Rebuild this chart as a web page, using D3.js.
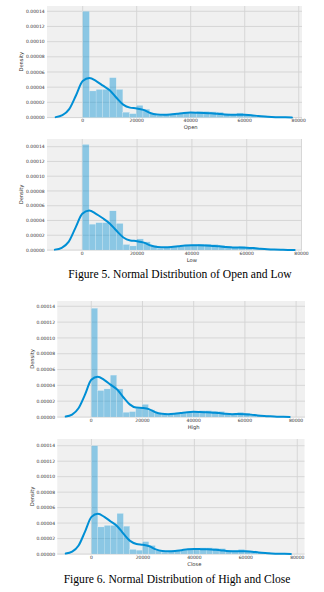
<!DOCTYPE html>
<html><head><meta charset="utf-8">
<script src="https://cdn.jsdelivr.net/npm/d3@7"></script>
<style>body{margin:0;background:#fff}svg{display:block}</style>
</head><body>
<svg id="c" width="324" height="592"></svg>
<script>
// ---------- DATA ----------
const fields = ["Open", "Low", "High", "Close"];
const xTicks = [0, 20000, 40000, 60000, 80000];
const yTicks = [0, 0.00002, 0.00004, 0.00006, 0.00008, 0.00010, 0.00012, 0.00014];
const captions = ["Figure 5. Normal Distribution of Open and Low", "Figure 6. Normal Distribution of High and Close"];
const binEdges = [0,2480,4960,7440,9920,12400,14880,17360,19840,22320,24800,27280,29760,32240,34720,37200,39680,42160,44640,47120,49600,52080,54560,57040,59520,62000,64480,66960,69440,71920,74400,76880];

const openBars  = [1.40e-4,3.5e-5,3.7e-5,3.7e-5,5.25e-5,3.7e-5,7e-6,5e-6,1.6e-5,1.1e-5,5e-6,2.5e-6,4e-6,5e-6,5e-6,6e-6,7e-6,8e-6,8e-6,7.5e-6,7e-6,5e-6,4e-6,6e-6,4e-6,3e-6,2e-6,2e-6,1e-6,1e-6,1e-6];
const lowBars   = [1.43e-4,3.5e-5,3.7e-5,3.7e-5,5.3e-5,3.6e-5,7.5e-6,5.5e-6,1.5e-5,1.1e-5,6e-6,2.5e-6,4e-6,5e-6,5e-6,6e-6,7e-6,8e-6,8e-6,7.5e-6,6.5e-6,5e-6,4e-6,5e-6,4e-6,3e-6,2e-6,1.5e-6,1e-6,1e-6,0.5e-6];
const highBars  = [1.376e-4,3.35e-5,3.55e-5,5.3e-5,3.55e-5,6e-6,6.8e-6,1.1e-5,1.6e-5,9e-6,5e-6,3e-6,4e-6,5e-6,5e-6,6e-6,7e-6,8e-6,8e-6,7.5e-6,7e-6,5e-6,4e-6,6e-6,5e-6,3e-6,2e-6,2e-6,1e-6,1e-6,1e-6];
const closeBars = [1.40e-4,3.5e-5,3.7e-5,3.7e-5,5.25e-5,3.6e-5,6e-6,5e-6,1.6e-5,1.1e-5,5e-6,2.5e-6,4e-6,5e-6,5e-6,6e-6,7e-6,8e-6,8e-6,7.5e-6,7e-6,5e-6,4e-6,6e-6,4e-6,3e-6,2e-6,2e-6,1e-6,1e-6,1e-6];

const kdeX = [-10000,-7500,-5000,-2500,0,2500,5000,7500,10000,12500,15000,17500,20000,22500,25000,27500,30000,32500,35000,37500,40000,42500,45000,47500,50000,52500,55000,57500,60000,62500,65000,67500,70000,72500,75000,77500];
const openKde  = [0.5e-6,3e-6,1.1e-5,2.9e-5,4.8e-5,5.2e-5,4.8e-5,4.2e-5,3.6e-5,2.6e-5,1.7e-5,1.3e-5,1.2e-5,1.0e-5,6e-6,4e-6,3.5e-6,4e-6,5e-6,6e-6,6.5e-6,6.3e-6,6e-6,5.5e-6,5e-6,4e-6,3.5e-6,3.7e-6,3.5e-6,3e-6,2e-6,1.3e-6,0.8e-6,0.4e-6,0.2e-6,0];
const lowKde   = [0.5e-6,3e-6,1.1e-5,3.0e-5,4.9e-5,5.35e-5,4.9e-5,4.3e-5,3.6e-5,2.6e-5,1.7e-5,1.3e-5,1.2e-5,1.0e-5,6e-6,4e-6,3.6e-6,4e-6,5e-6,6e-6,6.5e-6,6.3e-6,6e-6,5.5e-6,5e-6,4e-6,3.5e-6,3.5e-6,3.2e-6,2.6e-6,1.8e-6,1.1e-6,0.6e-6,0.3e-6,0.1e-6,0];
const highKde  = [0.5e-6,3e-6,1.1e-5,2.8e-5,4.7e-5,5.1e-5,4.7e-5,4.1e-5,3.5e-5,2.5e-5,1.6e-5,1.2e-5,1.15e-5,1.0e-5,6e-6,4e-6,3.5e-6,4e-6,5e-6,6e-6,6.5e-6,6.3e-6,6e-6,5.5e-6,5e-6,4e-6,3.5e-6,3.8e-6,3.6e-6,3e-6,2e-6,1.3e-6,0.8e-6,0.4e-6,0.2e-6,0];
const closeKde = [0.5e-6,3e-6,1.1e-5,2.9e-5,4.8e-5,5.2e-5,4.8e-5,4.2e-5,3.6e-5,2.6e-5,1.7e-5,1.3e-5,1.2e-5,1.0e-5,6e-6,4e-6,3.5e-6,4e-6,5e-6,6e-6,6.5e-6,6.3e-6,6e-6,5.5e-6,5e-6,4e-6,3.5e-6,3.7e-6,3.5e-6,3e-6,2e-6,1.3e-6,0.8e-6,0.4e-6,0.2e-6,0];

// ---------- LAYOUT ----------
const panels = [
  {field: fields[0], bars: openBars,  kde: openKde,  x0: 47,   x1: 302,   y0: 6,   y1: 117.5, xmin: -13220, xmax: 81220, ymax: 0.000147,  labX: 20.7},
  {field: fields[1], bars: lowBars,   kde: lowKde,   x0: 47,   x1: 302,   y0: 139, y1: 250,   xmin: -12880, xmax: 80180, ymax: 0.0001504, labX: 20.7},
  {field: fields[2], bars: highBars,  kde: highKde,  x0: 57.3, x1: 305,   y0: 301, y1: 417,   xmin: -13280, xmax: 83480, ymax: 0.0001467, labX: 31.7},
  {field: fields[3], bars: closeBars, kde: closeKde, x0: 57.3, x1: 304.5, y0: 439, y1: 554,   xmin: -13280, xmax: 82800, ymax: 0.0001487, labX: 31.7}
];

const svg = d3.select("#c");
const fmt = d3.format(".5f");
const blue = "#008fd5";

panels.forEach(p => {
  const x = d3.scaleLinear().domain([p.xmin, p.xmax]).range([p.x0, p.x1]);
  const y = d3.scaleLinear().domain([0, p.ymax]).range([p.y1, p.y0]);
  const g = svg.append("g");
  g.append("rect").attr("x", p.x0).attr("y", p.y0).attr("width", p.x1 - p.x0).attr("height", p.y1 - p.y0 + 0.8).attr("fill", "#f0f0f0");

  // grid
  g.append("g").selectAll("line").data(yTicks).join("line")
    .attr("x1", p.x0).attr("x2", p.x1).attr("y1", d => y(d)).attr("y2", d => y(d))
    .attr("stroke", "#d4d4d4").attr("stroke-width", 0.9);
  g.append("g").selectAll("line").data(xTicks).join("line")
    .attr("y1", p.y0).attr("y2", p.y1).attr("x1", d => x(d)).attr("x2", d => x(d))
    .attr("stroke", "#d4d4d4").attr("stroke-width", 0.9);

  // bars
  g.append("g").selectAll("rect").data(p.bars).join("rect")
    .attr("x", (d, i) => x(binEdges[i]))
    .attr("width", (d, i) => x(binEdges[i + 1]) - x(binEdges[i]))
    .attr("y", d => y(d)).attr("height", d => y(0) - y(d))
    .attr("fill", blue).attr("fill-opacity", 0.42)
    .attr("stroke", "#e8f2f8").attr("stroke-width", 0.25);

  // kde
  const line = d3.line().x((d, i) => x(kdeX[i])).y(d => y(d)).curve(d3.curveMonotoneX);
  g.append("path").datum(p.kde).attr("d", line).attr("fill", "none")
    .attr("stroke", blue).attr("stroke-width", 2).attr("stroke-linecap", "round");

  // tick labels
  g.append("g").selectAll("text").data(yTicks).join("text")
    .attr("x", p.x0 - 2.3).attr("y", d => y(d)).attr("dy", "0.35em")
    .attr("text-anchor", "end").attr("font-family", "DejaVu Sans").attr("font-size", 4.5)
    .attr("fill", "#333").text(d => fmt(d));
  g.append("g").selectAll("text").data(xTicks).join("text")
    .attr("x", d => x(d)).attr("y", p.y1 + 3.4).attr("dy", "0.35em")
    .attr("text-anchor", "middle").attr("font-family", "DejaVu Sans").attr("font-size", 4.5)
    .attr("fill", "#333").text(d => d);

  // axis labels
  g.append("text").attr("x", (x(0) + x(80000)) / 2).attr("y", p.y1 + 10).attr("dy", "0.35em")
    .attr("text-anchor", "middle").attr("font-family", "DejaVu Sans").attr("font-size", 5.2)
    .attr("fill", "#333").text(p.field);
  g.append("text").attr("transform", `translate(${p.labX},${(p.y0 + p.y1) / 2}) rotate(-90)`)
    .attr("dy", "0.35em").attr("text-anchor", "middle").attr("font-family", "DejaVu Sans").attr("font-size", 5.2)
    .attr("fill", "#333").text("Density");
});

svg.append("text").attr("x", 180).attr("y", 278).attr("text-anchor", "middle")
  .attr("font-family", "Liberation Serif").attr("font-size", 11.6).attr("fill", "#000").text(captions[0]);
svg.append("text").attr("x", 177).attr("y", 583).attr("text-anchor", "middle")
  .attr("font-family", "Liberation Serif").attr("font-size", 11.6).attr("fill", "#000").text(captions[1]);
</script>
</body></html>
